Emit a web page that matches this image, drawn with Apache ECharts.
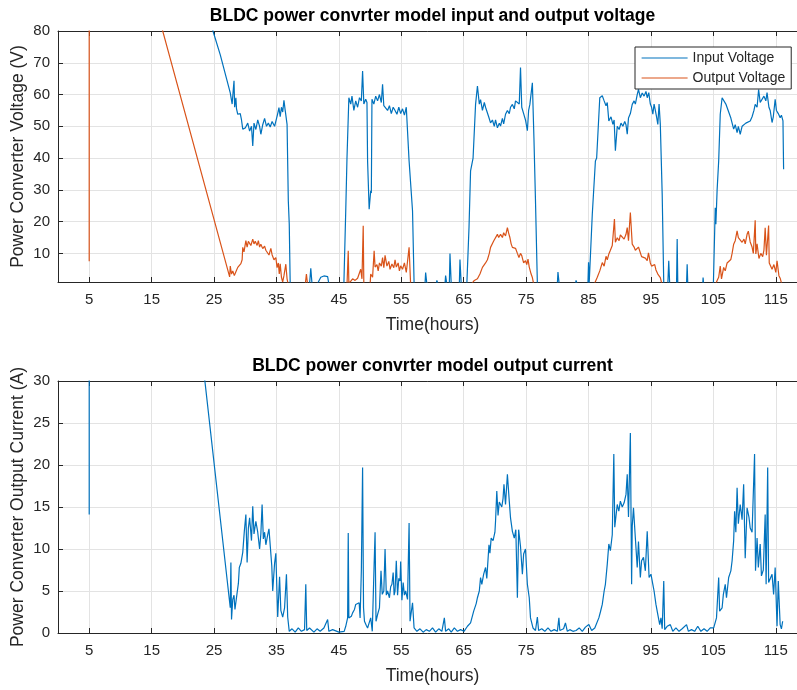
<!DOCTYPE html>
<html>
<head>
<meta charset="utf-8">
<script src="https://cdn.jsdelivr.net/npm/echarts@6/dist/echarts.min.js"></script>
<style>html,body{margin:0;padding:0;background:#fff}#c{width:797px;height:690px}</style>
</head>
<body>
<div id="c"></div>
<script>
// ---- Data (hours, value) ----
const inTime = [5,25,26,27,27.6,27.9,28.1,28.2,28.3,28.5,28.6,28.8,29.2,29.4,29.6,30,30.4,30.7,31,31.2,31.4,31.7,32,32.3,32.5,32.8,33.1,33.4,33.7,34,34.3,34.7,35,35.2,35.4,35.6,35.8,36,36.2,36.4,36.7,36.9,37.05,37.2,38,39,40.3,40.5,40.7,41.5,42.1,42.6,43.2,43.4,45.8,46.1,46.3,46.6,46.9,47.1,47.4,47.7,48,48.3,48.6,48.8,49,49.3,49.5,49.6,49.85,50.1,50.2,50.3,50.6,50.9,51.2,51.5,51.8,52,52.2,52.5,52.8,53.1,53.4,53.7,54,54.3,54.6,54.9,55.2,55.5,55.8,56,56.25,56.8,57.05,58,58.8,58.9,59.1,60.6,60.7,60.9,62,62.1,62.3,62.7,62.8,63,64.3,64.4,64.6,65.5,65.85,66.1,66.5,66.9,67.2,67.5,67.7,68,68.3,68.5,68.8,69,69.3,69.6,69.9,70.1,70.4,70.7,70.9,71.2,71.4,71.7,72,72.3,72.5,72.8,73.1,73.3,73.6,73.9,74.1,74.3,74.6,74.9,75.2,75.4,75.6,76,76.25,76.5,76.8,78,80,80.1,80.3,82.9,83,83.2,84.9,85,85.1,85.3,85.6,86.1,86.3,86.8,87.2,87.5,87.8,88,88.25,88.6,88.9,89.1,89.3,89.6,89.9,90.2,90.5,90.8,91,91.2,91.4,91.7,92,92.3,92.5,92.8,93,93.3,93.6,93.9,94.2,94.4,94.65,94.9,95.1,95.3,95.5,95.7,95.9,96.1,96.3,96.5,96.8,97.05,97.7,97.85,98,99.1,99.2,99.3,100.7,100.8,100.9,103.3,103.35,103.45,105,105.3,105.4,105.6,105.85,106.1,106.4,106.7,107,107.2,107.5,107.8,108,108.25,108.5,108.8,109,109.3,109.6,109.9,110.2,110.5,110.9,111.2,111.5,111.7,112,112.25,112.5,112.8,113.1,113.4,113.6,113.9,114.1,114.4,114.6,114.9,115.1,115.4,115.7,115.9,116.15,116.25];
const inVolt = [211,78.9,72.5,65,60.5,57,62,64.3,56,59,55.5,53.8,54,52,49.1,49.5,51,48.5,50,43.8,51,49,52,50,47.5,50.5,52.5,50,51,49.8,51.5,50,50.5,54,55.9,53,56,54.5,58.2,55,50.6,26.5,19.2,0.5,0.3,0.2,0.3,5.3,0.3,0.2,2.5,2.9,2.7,0.3,0.3,23.4,40,59,57,59.5,55,58,56,59,58,67.4,57,58.5,57.5,39.1,23.9,29.7,29,58.5,57,59.5,58,60,57.5,63.2,56.5,57,55,56.5,54,56,55,53.8,56,54,55.5,53.5,56,56.6,39.1,23.4,0.5,0.3,0.3,4,0.3,0.3,1.5,0.3,0.3,3,0.3,0.3,10,0.3,0.3,8.1,0.3,0.3,18.2,36,40,56.9,62.7,57,58.4,55,57.5,56,56.3,53,51.1,52,50,52,49.5,51,50.1,52.5,50.8,53.8,55,54,56,56.9,55.5,58,58,57,68.5,56,54,52,48.6,55,56.9,63.7,46.4,26.5,0.5,0.3,0.3,4.1,0.3,0.3,1.5,0.3,0.3,7.2,0.5,1,22.3,39.1,40,59,59.6,58,56.5,57.5,51.7,53,50.6,52,42.3,50,49,51,50,51.5,50.5,47.5,52.6,54,56.9,58,57,60,61.6,59,60.5,59.5,61,59,60.6,57,56,53.8,57,55,53,50.6,57,50.6,28.6,0.5,0.3,7.7,0.3,0.3,14.5,0.3,0.3,6.6,0.3,0.3,2.4,0.3,0.3,24.4,19.2,30,39.1,53.8,59,59.6,57,55.9,56.5,52.6,53,49.1,50.5,48,50,47.5,50,49.5,51,50.5,51.7,53,55,56.9,56,61.6,57.5,58,59.5,58,60.6,56,55,51.2,53,58.5,55,54,52.7,53.5,51.7,36.5];

const outTime = [5,5,27.5,27.6,27.8,28,28.25,28.5,28.8,29.1,29.3,29.5,29.6,29.8,30.1,30.3,30.5,30.7,30.9,31.2,31.4,31.6,31.9,32.1,32.3,32.5,32.8,33.1,33.3,33.6,33.8,34.1,34.3,34.6,34.9,35.1,35.3,35.45,35.6,35.8,36,36.2,36.5,36.7,36.9,39.6,39.8,40,46.3,46.5,46.6,47.2,47.6,48,48.5,48.7,48.9,49,50,50.1,50.4,50.65,50.8,51.1,51.3,51.5,51.8,52,52.2,52.4,52.7,53,53.2,53.5,53.8,54,54.2,54.5,54.7,54.9,55.2,55.5,55.8,56,56.25,56.5,66.1,66.7,67.2,67.6,68,68.3,68.5,68.8,69.1,69.3,69.6,69.8,70.1,70.4,70.6,70.9,71.2,71.4,71.7,72,72.2,72.4,72.6,72.8,73.1,73.3,73.6,73.85,74.1,74.3,74.6,74.9,75.1,75.3,75.5,75.8,76,76.25,85.85,86.4,86.8,87.2,87.5,87.8,88,88.25,88.5,88.8,89,89.15,89.3,89.6,89.9,90.1,90.4,90.7,91,91.2,91.4,91.7,92,92.3,92.5,92.8,93,93.3,93.5,93.8,94.1,94.4,94.6,94.9,95.1,95.3,95.6,95.8,96.1,96.5,96.8,105.3,105.6,105.85,106.1,106.3,106.65,106.9,107.2,107.5,107.8,108,108.25,108.5,108.8,109,109.3,109.6,109.9,110.1,110.4,110.6,110.9,111.2,111.4,111.7,111.8,112,112.3,112.6,112.9,113.1,113.3,113.5,113.85,113.95,114.1,114.4,114.7,115,115.2,115.5,115.7,116];
const outVolt = [7.5,165,2.6,6,3.5,4.5,3,4.2,5.6,5,6.8,8,11.9,10.5,14,12,13.8,13.5,12.5,14.5,13,13.8,12.5,14,12,12.9,11.5,12.3,11,10.8,9.5,11.6,9.6,8,8.7,5.5,7,3.5,6.7,2.5,1,3,6.6,2,0,0,3.5,0,0,10.8,0.5,2,1.5,2.2,5,2,18.7,0,0,3.5,2.5,10.8,5.7,6.5,4.5,7,6,8.7,5.5,9.4,6,7.5,5,6.7,5.5,8,5.7,7,4.5,6.1,5,7,4,4.6,11.9,0,0,1.5,2,3.5,5.6,5,7,8,10,11.9,12.5,13.9,14.5,16,15,16,15,16.5,15.5,18.1,16.4,15,13,11.9,12.5,11.6,10,8.7,10,9.3,7,7.7,6.5,8.2,5.7,3.5,2.4,0,0,2.5,4.5,7.1,6,9.1,8,9.8,11,12.5,13,20.8,13.5,14.9,14,15.8,15.2,14.5,16,18.1,14,22.9,12.9,12,11,10.8,12,11.6,9,9.4,8.5,7.7,10.2,7,6,5.6,6.5,4.8,3.5,2.4,0,0,1.5,2.5,6,2,5.6,4.5,7,6.5,8.1,10,12.9,14,17.1,15,15.3,13.5,14.5,13,16,17,13.6,12,10,20.4,9.8,13,8.4,10,9,11,18.1,9.4,18.8,7,6.7,5,6.5,4,7.7,3,2.2,0];

const curTime = [5,5,27.6,27.7,27.8,28,28.2,28.35,28.5,28.7,28.9,29.05,29.3,29.6,29.85,30.1,30.3,30.5,30.7,31,31.2,31.4,31.7,32,32.3,32.5,32.7,32.9,33.1,33.3,33.6,33.8,34.1,34.25,34.4,34.7,34.9,35.2,35.5,35.7,36,36.3,36.6,36.8,37.05,37.5,38,38.5,39,39.5,39.7,39.85,40.3,41,41.5,42,42.6,43.2,43.4,44,45,45.85,46.1,46.4,46.5,46.6,47,47.2,47.5,47.7,48,48.25,48.4,48.6,48.8,48.95,49.1,49.4,49.6,49.85,50.1,50.35,50.65,50.8,50.95,51.2,51.5,51.75,51.95,52.2,52.4,52.6,52.8,53.1,53.3,53.5,53.7,53.85,54,54.2,54.4,54.6,54.8,54.9,55.1,55.3,55.5,55.7,56,56.25,56.4,56.8,57.05,57.5,58,58.5,59,59.5,60,60.5,61,61.5,61.9,62.1,62.6,63,63.5,64,64.5,65.05,65.6,66.1,66.6,67,67.2,67.5,67.7,67.9,68.2,68.5,68.7,69.05,69.2,69.4,69.7,70,70.1,70.3,70.5,70.7,70.9,71.1,71.3,71.45,71.7,72,72.3,72.5,72.8,73.1,73.35,73.6,73.8,74.1,74.4,74.6,74.9,75.2,75.5,75.7,76.1,76.5,76.7,76.8,77,77.5,78,78.5,79,79.5,80,80.25,80.4,81,81.3,81.6,82,82.5,83,83.5,84,84.5,85.05,85.5,86,86.3,86.65,86.9,87.2,87.5,87.7,88,88.25,88.5,88.8,89.05,89.2,89.6,89.85,90.1,90.4,90.7,91,91.2,91.4,91.7,91.9,92,92.2,92.5,92.8,93,93.3,93.5,93.8,94.1,94.4,94.7,95,95.3,95.5,95.8,96.1,96.4,96.6,96.8,97.05,97.2,97.6,98.1,98.5,99,99.5,100,100.7,101,101.5,102,102.5,103,103.5,104,104.5,105.05,105.5,105.85,106,106.4,106.6,106.9,107.1,107.45,107.8,108,108.25,108.4,108.6,108.8,109,109.3,109.6,109.85,110.1,110.4,110.7,110.9,111.2,111.6,111.75,112,112.2,112.5,112.7,113,113.3,113.45,113.7,113.85,114.1,114.4,114.65,114.9,115.2,115.4,115.7,115.9,116.1];
const curAmp = [14.1,153,3,8.4,1.6,4,4.5,2.8,2.6,4.8,5.9,7.8,8.3,9.6,12.1,14.1,8.4,12.5,13.7,11,15.1,11.8,13.3,12,10,11.8,15.3,11.2,12,10.5,11.7,12.4,12.3,8,5,8.3,9.5,1.9,6.7,2.7,1.9,3,7,1.9,0.2,0.5,0.1,0.6,0.2,0.4,5.8,0.3,0.6,0.1,0.5,0.2,0.6,1.6,0.2,0.4,0.1,0.2,0.8,1.8,11.9,1.8,2,2.4,2.8,3.4,3.5,3.6,1.8,7.4,19.7,3,1.4,0.9,0.6,1.2,1.8,0.2,8.2,12,1.4,2.2,3,7.4,4.6,5,10,4.5,5,4.2,5.5,5.8,7.2,4.5,5,8.6,4.5,6.5,6.2,8.5,3.9,6,4.5,5,4,13.1,1.4,3.6,0.6,0.2,0.5,0.1,0.4,0.2,0.6,0.1,0.5,0.2,1.8,0.2,0.5,0.1,0.6,0.2,0.4,0.2,0.8,1.2,2.6,3.5,4.2,5,6.6,5.8,7,7.8,6.5,10.5,9.5,11.3,11,12,13.3,16.9,14,15.6,15.7,15,16,17.7,15.3,18.9,15.7,13.7,12.1,11.3,12.3,4.2,12.3,10.3,7,9.4,10,5.8,4.2,1.8,0.6,0.3,0.2,1.9,0.3,0.5,0.2,0.6,0.2,0.4,0.2,1.8,0.3,0.5,1.2,0.2,0.4,0.2,0.3,0.6,0.2,0.7,1,0.3,0.6,0.8,1.8,2.5,3.4,5,5.8,8.2,10.6,9.8,11.7,21.3,12.6,15.3,14.5,15.7,15,15.5,16.5,18.9,13.8,23.8,5.8,12.7,14.9,11.3,7.8,10.9,6.6,8.6,9,7.4,12.1,6.6,7,5.8,5,3.4,2.2,1,1.8,0.5,6.2,0.4,0.8,1,0.2,0.6,0.2,0.5,1,0.2,0.4,0.2,0.8,0.2,0.5,0.2,0.6,0.6,1.8,6.6,2.6,3,4.6,5.8,4.2,6.6,7.4,8.6,11,14.5,12,17.3,13,15.3,13.5,17.7,8.9,14.9,13.8,12.5,12,21.3,7.4,11.3,7.8,10.6,6.8,7.5,14.1,5.8,19.7,6,6.2,7,4.6,7.8,0.8,6.2,1,0.5,1.4];

const xTicks = [5,15,25,35,45,55,65,75,85,95,105,115];
const vTicks = [10,20,30,40,50,60,70,80];

const FONT = "'Liberation Sans', Arial, Helvetica, sans-serif";
const AX = '#262626';
const GRIDC = '#e3e3e3';
const BLUE = '#0072BD';
const ORANGE = '#D95319';

function pairs(t, v) { return t.map((x, i) => [x, v[i]]); }

function xAxisBottom(gridIndex, nameGap) {
  return {
    type: 'value', gridIndex, position: 'bottom', min: 0, max: 120,
    name: 'Time(hours)', nameLocation: 'middle', nameGap,
    nameTextStyle: { fontSize: 17.5, color: AX, fontFamily: FONT },
    axisLine: { show: true, onZero: false, lineStyle: { color: AX, width: 1 } },
    axisTick: { show: true, inside: true, length: 5, customValues: xTicks, lineStyle: { color: AX } },
    axisLabel: { show: true, customValues: xTicks, margin: 10, fontSize: 15, color: AX, fontFamily: FONT },
    splitLine: { show: true, lineStyle: { color: GRIDC, width: 1 } }
  };
}
function xAxisTop(gridIndex) {
  return {
    type: 'value', gridIndex, position: 'top', min: 0, max: 120,
    axisLine: { show: true, onZero: false, lineStyle: { color: AX, width: 1 } },
    axisTick: { show: true, inside: true, length: 5, customValues: xTicks, lineStyle: { color: AX } },
    axisLabel: { show: false },
    splitLine: { show: false }
  };
}

const chart = echarts.init(document.getElementById('c'), null, { renderer: 'canvas' });
chart.setOption({
  animation: false,
  backgroundColor: '#fff',
  graphic: [
    { type: 'text', x: 432.5, y: 7, style: { text: 'BLDC power convrter model input and output voltage', align: 'center', textAlign: 'center', verticalAlign: 'top', textVerticalAlign: 'top', fontSize: 17.5, fontWeight: 'bold', fontFamily: FONT, fill: '#000' } },
    { type: 'text', x: 432.5, y: 357, style: { text: 'BLDC power convrter model output current', align: 'center', textAlign: 'center', verticalAlign: 'top', textVerticalAlign: 'top', fontSize: 17.5, fontWeight: 'bold', fontFamily: FONT, fill: '#000' } }
  ],
  legend: {
    data: ['Input Voltage', 'Output Voltage'],
    orient: 'vertical', left: 635, top: 47,
    itemWidth: 46, itemHeight: 14, itemGap: 6,
    padding: [4, 6, 4, 6],
    borderColor: AX, borderWidth: 1, backgroundColor: '#fff',
    itemStyle: { opacity: 0 },
    lineStyle: { width: 1.2 },
    textStyle: { fontSize: 14, color: AX, fontFamily: FONT },
    selectedMode: false
  },
  grid: [
    { left: 58, top: 31, width: 749, height: 251, outerBoundsMode: 'none', containLabel: false },
    { left: 58, top: 381, width: 749, height: 252, outerBoundsMode: 'none', containLabel: false }
  ],
  xAxis: [xAxisBottom(0, 34), xAxisTop(0), xAxisBottom(1, 34), xAxisTop(1)],
  yAxis: [
    {
      type: 'value', gridIndex: 0, min: 1, max: 80,
      name: 'Power Converter Voltage (V)', nameLocation: 'middle', nameGap: 31, nameMoveOverlap: false,
      nameTextStyle: { fontSize: 17.5, color: AX, fontFamily: FONT },
      axisLine: { show: true, lineStyle: { color: AX, width: 1 } },
      axisTick: { show: true, inside: true, length: 5, customValues: vTicks, lineStyle: { color: AX } },
      axisLabel: { customValues: vTicks, margin: 8, fontSize: 15, color: AX, fontFamily: FONT },
      splitLine: { show: true, lineStyle: { color: GRIDC, width: 1 } }
    },
    {
      type: 'value', gridIndex: 1, min: 0, max: 30, interval: 5,
      name: 'Power Converter Output Current (A)', nameLocation: 'middle', nameGap: 31, nameMoveOverlap: false,
      nameTextStyle: { fontSize: 17.5, color: AX, fontFamily: FONT },
      axisLine: { show: true, lineStyle: { color: AX, width: 1 } },
      axisTick: { show: true, inside: true, length: 5, lineStyle: { color: AX } },
      axisLabel: { margin: 8, fontSize: 15, color: AX, fontFamily: FONT },
      splitLine: { show: true, lineStyle: { color: GRIDC, width: 1 } }
    }
  ],
  series: [
    { name: 'Input Voltage', type: 'line', xAxisIndex: 0, yAxisIndex: 0, data: pairs(inTime, inVolt), symbol: 'none', showSymbol: false, clip: true, color: BLUE, lineStyle: { color: BLUE, width: 1.2 } },
    { name: 'Output Voltage', type: 'line', xAxisIndex: 0, yAxisIndex: 0, data: pairs(outTime, outVolt), symbol: 'none', showSymbol: false, clip: true, color: ORANGE, lineStyle: { color: ORANGE, width: 1.2 } },
    { name: 'Output Current', type: 'line', xAxisIndex: 2, yAxisIndex: 1, data: pairs(curTime, curAmp), symbol: 'none', showSymbol: false, clip: true, color: BLUE, lineStyle: { color: BLUE, width: 1.2 } }
  ]
});
</script>
</body>
</html>
